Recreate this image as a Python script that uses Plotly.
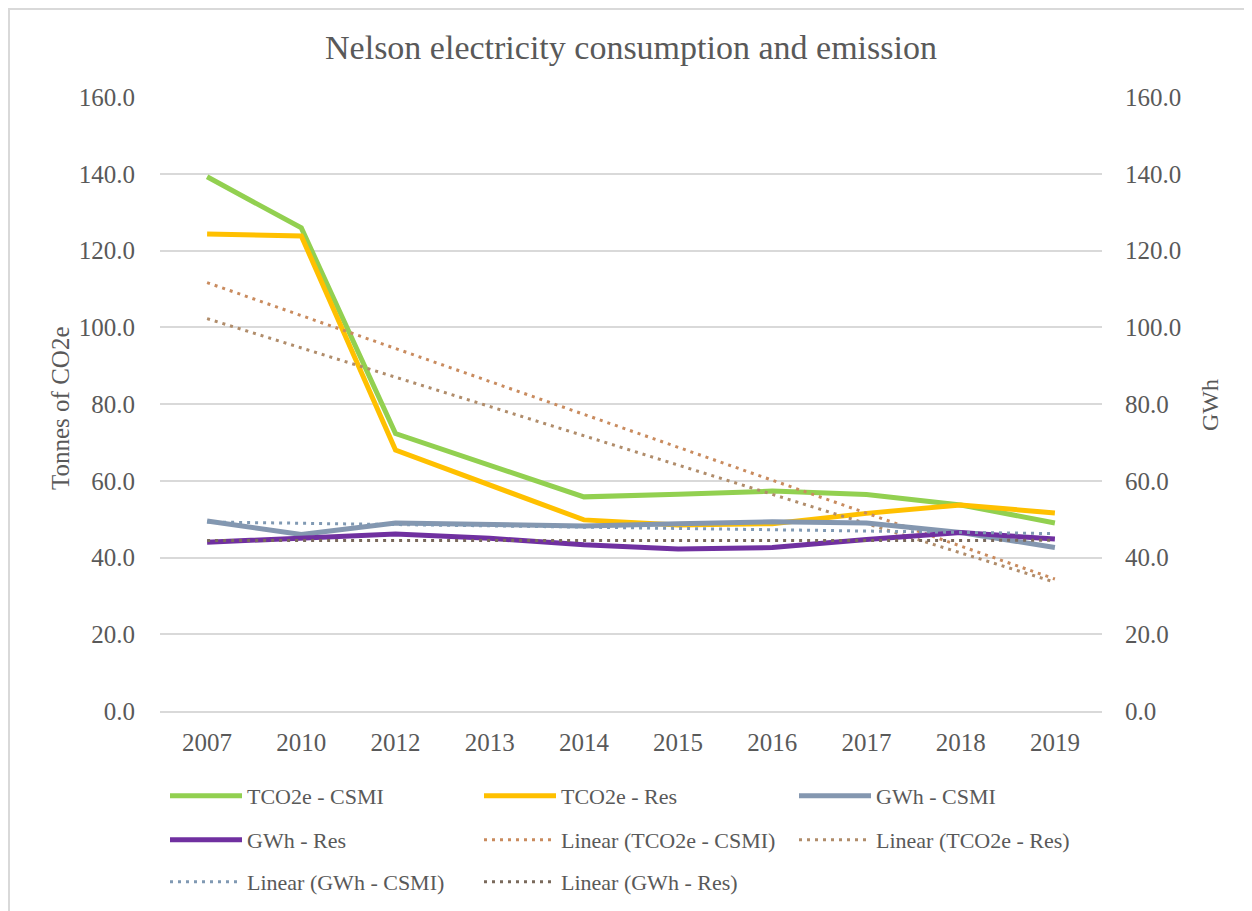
import numpy as np
import plotly.graph_objects as go

years = ["2007", "2010", "2012", "2013", "2014", "2015", "2016", "2017", "2018", "2019"]
tco2e_csmi = [139.2, 125.9, 72.3, 64.0, 55.8, 56.5, 57.3, 56.4, 53.7, 49.0]
tco2e_res = [124.3, 123.8, 68.0, 59.0, 49.8, 48.5, 48.8, 51.5, 53.7, 51.6]
gwh_csmi = [49.5, 46.0, 49.0, 48.5, 48.2, 48.8, 49.3, 49.0, 46.5, 42.6]
gwh_res = [44.0, 45.2, 46.1, 45.0, 43.3, 42.2, 42.6, 44.7, 46.5, 44.8]
y_ticks = [0, 20, 40, 60, 80, 100, 120, 140, 160]

FONT = "Liberation Serif"
TXT = "#595959"
GRID = "#D9D9D9"

# page is offset by the default 8px body margin
OFF = 8
W, H = 1252 - OFF, 911 - OFF
L, T = 160 - OFF, 97 - OFF
R, B = W - (1102 - OFF), H - (711 - OFF)
pw, ph = W - L - R, H - T - B
ITEMW = 72


def linear_trend(values):
    xi = np.arange(1, len(values) + 1)
    slope, intercept = np.polyfit(xi, values, 1)
    return list(slope * xi + intercept)


def cx(p):  # page px -> container fraction
    return (p - OFF) / W


def cy(p):
    return 1 - (p - OFF) / H


def pxp(p):  # page px -> paper x
    return (p - OFF - L) / pw


def pyp(p):  # page px -> paper y
    return (H - B - (p - OFF)) / ph


# legend slot for each trace: (text left x, row center y) in page px
cols = [247, 561, 876]
rows = [796, 840, 882]
slots = [(cols[0], rows[0]), (cols[1], rows[0]), (cols[2], rows[0]),
         (cols[0], rows[1]), (cols[1], rows[1]), (cols[2], rows[1]),
         (cols[0], rows[2]), (cols[1], rows[2])]

fig = go.Figure()

series = [
    ("TCO2e - CSMI", tco2e_csmi, "#92D050", "y", False),
    ("TCO2e - Res", tco2e_res, "#FFC000", "y", False),
    ("GWh - CSMI", gwh_csmi, "#8497B0", "y2", False),
    ("GWh - Res", gwh_res, "#7030A0", "y2", False),
    ("Linear (TCO2e - CSMI)", tco2e_csmi, "#C98B5E", "y", True),
    ("Linear (TCO2e - Res)", tco2e_res, "#B08C6A", "y", True),
    ("Linear (GWh - CSMI)", gwh_csmi, "#8099B3", "y2", True),
    ("Linear (GWh - Res)", gwh_res, "#7A6A5C", "y2", True),
]

legends = {}
for i, (name, vals, col, ax, trend) in enumerate(series):
    lg = "legend" if i == 0 else f"legend{i + 1}"
    if trend:
        line = dict(color=col, width=3, dash="3px,5px")
        yv = linear_trend(vals)
    else:
        line = dict(color=col, width=5)
        yv = vals
    fig.add_trace(go.Scatter(x=years, y=yv, name=name, mode="lines", line=line,
                             yaxis=ax, legend=lg))
    tx, ty = slots[i]
    legends[lg] = dict(orientation="v", xref="container", yref="container",
                       x=cx(tx - ITEMW - 10), y=cy(ty), xanchor="left", yanchor="middle",
                       itemwidth=ITEMW,
                       font=dict(family=FONT, size=22, color=TXT),
                       bgcolor="rgba(0,0,0,0)", borderwidth=0)

fig.update_layout(
    width=W, height=H,
    margin=dict(l=L, r=R, t=T, b=B, pad=0, autoexpand=False),
    paper_bgcolor="white", plot_bgcolor="white",
    font=dict(family=FONT, color=TXT),
    title=dict(text="Nelson electricity consumption and emission", x=0.5, xref="paper",
               xanchor="center", yref="container", y=cy(47), yanchor="middle",
               font=dict(family=FONT, size=34, color=TXT)),
    xaxis=dict(type="category", range=[-0.5, 9.5], showgrid=False, showline=True,
               linecolor=GRID, linewidth=1.5, ticks="", tickangle=0,
               tickfont=dict(family=FONT, size=25, color=TXT), ticklabelstandoff=8),
    yaxis=dict(range=[0, 160], tickvals=y_ticks, tickformat=".1f", showgrid=True,
               gridcolor=GRID, gridwidth=1.5, zeroline=False, showline=False, ticks="",
               tickfont=dict(family=FONT, size=25, color=TXT), ticklabelstandoff=24),
    yaxis2=dict(range=[0, 160], tickvals=y_ticks, tickformat=".1f", overlaying="y",
                side="right", showgrid=False, zeroline=False, showline=False, ticks="",
                tickfont=dict(family=FONT, size=25, color=TXT), ticklabelstandoff=22),
    annotations=[
        dict(text="Tonnes of CO2e", textangle=-90, xref="paper", yref="paper",
             x=pxp(60), y=pyp(408), xanchor="center", yanchor="middle", showarrow=False,
             font=dict(family=FONT, size=25, color=TXT)),
        dict(text="GWh", textangle=-90, xref="paper", yref="paper",
             x=pxp(1210), y=pyp(405), xanchor="center", yanchor="middle", showarrow=False,
             font=dict(family=FONT, size=24, color=TXT)),
    ],
    showlegend=True,
    shapes=[dict(type="path", xref="paper", yref="paper",
                 path=(f"M {(1 - L) / pw},{-B / ph - 0.01} L {(1 - L) / pw},{1 + (T - 1) / ph} "
                       f"L {(W - L) / pw + 0.01},{1 + (T - 1) / ph}"),
                 line=dict(color=GRID, width=2), layer="below")],
    **legends,
)

fig.write_html("out.html")
